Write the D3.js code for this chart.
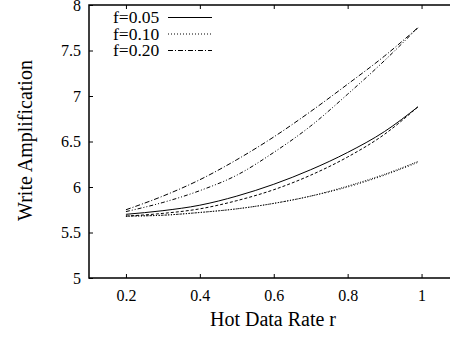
<!DOCTYPE html>
<html><head><meta charset="utf-8">
<script src="https://cdn.jsdelivr.net/npm/d3@7"></script>
<style>body{margin:0;background:#fff}svg{display:block}</style>
</head><body><svg id="c" width="450" height="337"></svg>
<script>
const rValues = [0.2,0.3,0.4,0.5,0.6,0.7,0.8,0.9,0.99];
const wa05 = [5.70,5.74,5.80,5.90,6.03,6.19,6.38,6.61,6.88];
const wa05b = [5.68,5.71,5.76,5.85,5.97,6.13,6.33,6.58,6.88];
const wa10 = [5.68,5.69,5.72,5.76,5.82,5.90,6.00,6.13,6.27];
const wa10b = [5.68,5.69,5.72,5.76,5.82,5.90,6.01,6.14,6.28];
const wa20 = [5.75,5.90,6.08,6.30,6.55,6.83,7.13,7.44,7.75];
const wa20b = [5.73,5.83,5.96,6.13,6.38,6.67,7.02,7.39,7.75];
const xTicks = [0.2,0.4,0.6,0.8,1];
const yTicks = [5,5.5,6,6.5,7,7.5,8];
const legendLabels = ["f=0.05","f=0.10","f=0.20"];

const FONT = "'Liberation Serif','Times New Roman',Times,serif";
const svg = d3.select("#c");
const L=89, T=5, B=278;
const x = d3.scaleLinear().domain([0.1,1.1]).range([L, L+369.5]);
const y = d3.scaleLinear().domain([5,8]).range([B, T]);

const series = [
  {v:wa05, dash:null},
  {v:wa05b, dash:"3,2"},
  {v:wa10, dash:"1,2"},
  {v:wa10b, dash:"1,1.5"},
  {v:wa20, dash:"5,2,1,2"},
  {v:wa20b, dash:"4,2,1,2,1,2"}
];
const line = d3.line().x((d,i)=>x(rValues[i])).y(d=>y(d)).curve(d3.curveMonotoneX);
series.forEach(s=>{
  svg.append("path").attr("d",line(s.v)).attr("fill","none").attr("stroke","#000")
    .attr("stroke-width",1).attr("stroke-dasharray",s.dash);
});

const xr = x.range()[1];
svg.append("path").attr("d",`M${xr},${T}H${L}V${B}H${xr}`).attr("fill","none").attr("stroke","#000").attr("stroke-width",1.5);

const yAxis = d3.axisLeft(y).tickValues(yTicks).tickSize(-4).tickPadding(8).tickFormat(d3.format("~g"));
const gy = svg.append("g").attr("transform",`translate(${L},0)`).call(yAxis);
gy.select(".domain").remove();
const xAxis = d3.axisBottom(x).tickValues(xTicks).tickSize(-4).tickPadding(12).tickFormat(d3.format("~g"));
const gx = svg.append("g").attr("transform",`translate(0,${B})`).call(xAxis);
gx.select(".domain").remove();
const gxt = svg.append("g").attr("transform",`translate(0,${T})`).call(d3.axisTop(x).tickValues(xTicks).tickSize(-4).tickFormat(""));
gxt.select(".domain").remove();
svg.selectAll("g").attr("font-family",FONT).attr("font-size",16);
svg.selectAll(".tick line").attr("stroke","#000").attr("stroke-width",1);
svg.selectAll(".tick text").attr("fill","#000");

svg.append("text").attr("x",273).attr("y",326).attr("text-anchor","middle").attr("font-family",FONT).attr("font-size",20).text("Hot Data Rate r");
svg.append("text").attr("transform","translate(31.5,140.5) rotate(-90)").attr("text-anchor","middle").attr("font-family",FONT).attr("font-size",20).text("Write Amplification");

const legDash=[null,"1,2","5,2,1,2"];
legendLabels.forEach((t,i)=>{
  const yy = 17.5+i*16.5;
  svg.append("text").attr("x",113).attr("y",yy+5.5).attr("font-family",FONT).attr("font-size",17.5).text(t);
  svg.append("line").attr("x1",168).attr("x2",212).attr("y1",yy).attr("y2",yy).attr("stroke","#000").attr("stroke-width",1).attr("stroke-dasharray",legDash[i]);
});
</script></body></html>
